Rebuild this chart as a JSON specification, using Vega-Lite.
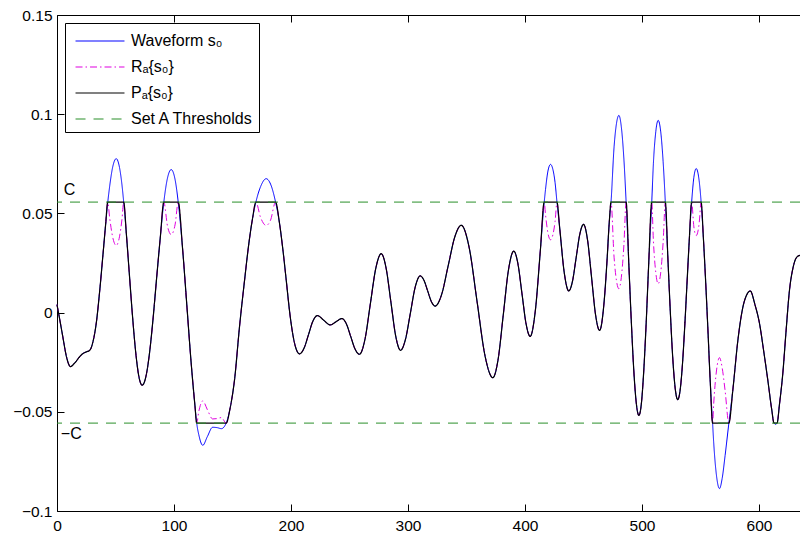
{
  "$schema": "https://vega.github.io/schema/vega-lite/v6.json",
  "width": 743,
  "height": 496,
  "autosize": "none",
  "padding": {"left": 57, "top": 15, "right": 0, "bottom": 24},
  "background": "white",
  "config": {
    "view": {"stroke": null},
    "font": "Liberation Sans",
    "axis": {
      "domainColor": "black", "domainWidth": 1, "tickColor": "black", "tickWidth": 1,
      "tickSize": -7, "labelColor": "black", "labelFont": "Liberation Sans", "labelFontSize": 15.5,
      "grid": false, "labelFlush": false, "labelOverlap": false
    },
    "legend": {
      "orient": "top-left", "offset": 8, "padding": 5, "strokeColor": "black", "fillColor": "white",
      "symbolType": "M-2.04,0H2.04", "symbolSize": 576, "symbolStrokeWidth": 1.2, "symbolOffset": 17,
      "labelFont": "Liberation Sans", "labelFontSize": 16, "labelColor": "black",
      "rowPadding": 5, "labelOffset": 18, "labelLimit": 400
    }
  },
  "resolve": {"axis": {"x": "independent"}},
  "datasets": {
    "w": [
      {"x":0,"s":0.004,"r":0.004,"p":0.004},
      {"x":2.5,"s":-0.004,"r":-0.004,"p":-0.004},
      {"x":5,"s":-0.0123,"r":-0.0123,"p":-0.0123},
      {"x":8,"s":-0.022,"r":-0.022,"p":-0.022},
      {"x":11.5,"s":-0.0272,"r":-0.0272,"p":-0.0272},
      {"x":15,"s":-0.0255,"r":-0.0255,"p":-0.0255},
      {"x":19,"s":-0.0225,"r":-0.0225,"p":-0.0225},
      {"x":22,"s":-0.0207,"r":-0.0207,"p":-0.0207},
      {"x":25,"s":-0.0198,"r":-0.0198,"p":-0.0198},
      {"x":28,"s":-0.019,"r":-0.019,"p":-0.019},
      {"x":31,"s":-0.014,"r":-0.014,"p":-0.014},
      {"x":33.65,"s":-0.0049,"r":-0.0049,"p":-0.0049},
      {"x":36.5,"s":0.011,"r":0.011,"p":0.011},
      {"x":39.3,"s":0.0293,"r":0.0293,"p":0.0293},
      {"x":41.5,"s":0.044,"r":0.044,"p":0.044},
      {"x":43.4,"s":0.0557,"r":0.0557,"p":0.0557},
      {"x":45,"s":0.0636,"r":0.0478,"p":0.0557},
      {"x":47.8,"s":0.0739,"r":0.0375,"p":0.0557},
      {"x":50.6,"s":0.0776,"r":0.0338,"p":0.0557},
      {"x":53.4,"s":0.0732,"r":0.0382,"p":0.0557},
      {"x":55.5,"s":0.0645,"r":0.0469,"p":0.0557},
      {"x":57,"s":0.0557,"r":0.0557,"p":0.0557},
      {"x":59.3,"s":0.0395,"r":0.0395,"p":0.0395},
      {"x":61.7,"s":0.0205,"r":0.0205,"p":0.0205},
      {"x":64.5,"s":-0.0015,"r":-0.0015,"p":-0.0015},
      {"x":67.25,"s":-0.0199,"r":-0.0199,"p":-0.0199},
      {"x":70,"s":-0.0323,"r":-0.0323,"p":-0.0323},
      {"x":72.8,"s":-0.0366,"r":-0.0366,"p":-0.0366},
      {"x":76,"s":-0.0322,"r":-0.0322,"p":-0.0322},
      {"x":79,"s":-0.0207,"r":-0.0207,"p":-0.0207},
      {"x":82,"s":-0.0037,"r":-0.0037,"p":-0.0037},
      {"x":85.2,"s":0.0178,"r":0.0178,"p":0.0178},
      {"x":88.3,"s":0.038,"r":0.038,"p":0.038},
      {"x":91.3,"s":0.0557,"r":0.0557,"p":0.0557},
      {"x":94.5,"s":0.068,"r":0.0434,"p":0.0557},
      {"x":97.6,"s":0.0721,"r":0.0393,"p":0.0557},
      {"x":101,"s":0.0668,"r":0.0446,"p":0.0557},
      {"x":103.6,"s":0.0557,"r":0.0557,"p":0.0557},
      {"x":107.3,"s":0.0324,"r":0.0324,"p":0.0324},
      {"x":111.1,"s":0.0026,"r":0.0026,"p":0.0026},
      {"x":114.5,"s":-0.0242,"r":-0.0242,"p":-0.0242},
      {"x":117.85,"s":-0.0466,"r":-0.0466,"p":-0.0466},
      {"x":119.4,"s":-0.0557,"r":-0.0557,"p":-0.0557},
      {"x":121.2,"s":-0.0616,"r":-0.0498,"p":-0.0557},
      {"x":124.6,"s":-0.0669,"r":-0.0445,"p":-0.0557},
      {"x":128.5,"s":-0.0625,"r":-0.0489,"p":-0.0557},
      {"x":133,"s":-0.0578,"r":-0.0536,"p":-0.0557},
      {"x":137,"s":-0.058,"r":-0.0534,"p":-0.0557},
      {"x":140.5,"s":-0.0585,"r":-0.0529,"p":-0.0557},
      {"x":144.6,"s":-0.0557,"r":-0.0557,"p":-0.0557},
      {"x":148,"s":-0.048,"r":-0.048,"p":-0.048},
      {"x":151.7,"s":-0.034,"r":-0.034,"p":-0.034},
      {"x":156,"s":-0.007,"r":-0.007,"p":-0.007},
      {"x":160.3,"s":0.0163,"r":0.0163,"p":0.0163},
      {"x":164,"s":0.035,"r":0.035,"p":0.035},
      {"x":167,"s":0.047,"r":0.047,"p":0.047},
      {"x":170,"s":0.0557,"r":0.0557,"p":0.0557},
      {"x":174,"s":0.0635,"r":0.0479,"p":0.0557},
      {"x":178.8,"s":0.0675,"r":0.0439,"p":0.0557},
      {"x":182.5,"s":0.0648,"r":0.0466,"p":0.0557},
      {"x":186.8,"s":0.0557,"r":0.0557,"p":0.0557},
      {"x":190,"s":0.0457,"r":0.0457,"p":0.0457},
      {"x":193,"s":0.032,"r":0.032,"p":0.032},
      {"x":195.9,"s":0.0164,"r":0.0164,"p":0.0164},
      {"x":199,"s":-0.0005,"r":-0.0005,"p":-0.0005},
      {"x":202,"s":-0.0125,"r":-0.0125,"p":-0.0125},
      {"x":204.5,"s":-0.0185,"r":-0.0185,"p":-0.0185},
      {"x":207.3,"s":-0.0208,"r":-0.0208,"p":-0.0208},
      {"x":211.1,"s":-0.018,"r":-0.018,"p":-0.018},
      {"x":214.9,"s":-0.0112,"r":-0.0112,"p":-0.0112},
      {"x":218.7,"s":-0.0043,"r":-0.0043,"p":-0.0043},
      {"x":222.5,"s":-0.0015,"r":-0.0015,"p":-0.0015},
      {"x":228,"s":-0.0039,"r":-0.0039,"p":-0.0039},
      {"x":233.5,"s":-0.0062,"r":-0.0062,"p":-0.0062},
      {"x":238.5,"s":-0.0046,"r":-0.0046,"p":-0.0046},
      {"x":243.5,"s":-0.003,"r":-0.003,"p":-0.003},
      {"x":247.25,"s":-0.0056,"r":-0.0056,"p":-0.0056},
      {"x":251,"s":-0.012,"r":-0.012,"p":-0.012},
      {"x":254.75,"s":-0.0184,"r":-0.0184,"p":-0.0184},
      {"x":258.5,"s":-0.021,"r":-0.021,"p":-0.021},
      {"x":263.15,"s":-0.0136,"r":-0.0136,"p":-0.0136},
      {"x":267.8,"s":0.0044,"r":0.0044,"p":0.0044},
      {"x":272.45,"s":0.0223,"r":0.0223,"p":0.0223},
      {"x":277.1,"s":0.0297,"r":0.0297,"p":0.0297},
      {"x":281.2,"s":0.0226,"r":0.0226,"p":0.0226},
      {"x":285.35,"s":0.0054,"r":0.0054,"p":0.0054},
      {"x":289.5,"s":-0.0119,"r":-0.0119,"p":-0.0119},
      {"x":293.6,"s":-0.019,"r":-0.019,"p":-0.019},
      {"x":297.8,"s":-0.0135,"r":-0.0135,"p":-0.0135},
      {"x":302,"s":-0.0003,"r":-0.0003,"p":-0.0003},
      {"x":306.2,"s":0.013,"r":0.013,"p":0.013},
      {"x":310.4,"s":0.0185,"r":0.0185,"p":0.0185},
      {"x":313.6,"s":0.0163,"r":0.0163,"p":0.0163},
      {"x":316.8,"s":0.0109,"r":0.0109,"p":0.0109},
      {"x":320,"s":0.0055,"r":0.0055,"p":0.0055},
      {"x":323.2,"s":0.0033,"r":0.0033,"p":0.0033},
      {"x":328.8,"s":0.0093,"r":0.0093,"p":0.0093},
      {"x":334.35,"s":0.0237,"r":0.0237,"p":0.0237},
      {"x":339.9,"s":0.038,"r":0.038,"p":0.038},
      {"x":345.5,"s":0.044,"r":0.044,"p":0.044},
      {"x":352.25,"s":0.0328,"r":0.0328,"p":0.0328},
      {"x":359,"s":0.0056,"r":0.0056,"p":0.0056},
      {"x":365.75,"s":-0.0216,"r":-0.0216,"p":-0.0216},
      {"x":372.5,"s":-0.0328,"r":-0.0328,"p":-0.0328},
      {"x":377,"s":-0.0235,"r":-0.0235,"p":-0.0235},
      {"x":381.45,"s":-0.0009,"r":-0.0009,"p":-0.0009},
      {"x":385.9,"s":0.0217,"r":0.0217,"p":0.0217},
      {"x":390.4,"s":0.031,"r":0.031,"p":0.031},
      {"x":393.9,"s":0.0247,"r":0.0247,"p":0.0247},
      {"x":397.4,"s":0.0095,"r":0.0095,"p":0.0095},
      {"x":400.9,"s":-0.0057,"r":-0.0057,"p":-0.0057},
      {"x":404.4,"s":-0.012,"r":-0.012,"p":-0.012},
      {"x":408.75,"s":0.0007,"r":0.0007,"p":0.0007},
      {"x":413.1,"s":0.0314,"r":0.0314,"p":0.0314},
      {"x":416.4,"s":0.0557,"r":0.0557,"p":0.0557},
      {"x":417.5,"s":0.062,"r":0.0494,"p":0.0557},
      {"x":419.6,"s":0.0714,"r":0.04,"p":0.0557},
      {"x":421.8,"s":0.0747,"r":0.0367,"p":0.0557},
      {"x":423.75,"s":0.0723,"r":0.0391,"p":0.0557},
      {"x":425.7,"s":0.0654,"r":0.046,"p":0.0557},
      {"x":427.3,"s":0.0557,"r":0.0557,"p":0.0557},
      {"x":429.6,"s":0.0428,"r":0.0428,"p":0.0428},
      {"x":433.5,"s":0.0202,"r":0.0202,"p":0.0202},
      {"x":437.4,"s":0.0109,"r":0.0109,"p":0.0109},
      {"x":440.55,"s":0.0158,"r":0.0158,"p":0.0158},
      {"x":443.7,"s":0.0277,"r":0.0277,"p":0.0277},
      {"x":446.85,"s":0.0396,"r":0.0396,"p":0.0396},
      {"x":450,"s":0.0445,"r":0.0445,"p":0.0445},
      {"x":453.4,"s":0.0367,"r":0.0367,"p":0.0367},
      {"x":456.85,"s":0.0178,"r":0.0178,"p":0.0178},
      {"x":460.3,"s":-0.0012,"r":-0.0012,"p":-0.0012},
      {"x":463.7,"s":-0.009,"r":-0.009,"p":-0.009},
      {"x":467.8,"s":0.0069,"r":0.0069,"p":0.0069},
      {"x":470,"s":0.0255,"r":0.0255,"p":0.0255},
      {"x":471.95,"s":0.0452,"r":0.0452,"p":0.0452},
      {"x":473.5,"s":0.0557,"r":0.0557,"p":0.0557},
      {"x":476.1,"s":0.0835,"r":0.0279,"p":0.0557},
      {"x":478.15,"s":0.0953,"r":0.0161,"p":0.0557},
      {"x":480.2,"s":0.0994,"r":0.012,"p":0.0557},
      {"x":482.3,"s":0.0936,"r":0.0178,"p":0.0557},
      {"x":484.5,"s":0.0773,"r":0.0341,"p":0.0557},
      {"x":486.4,"s":0.0557,"r":0.0557,"p":0.0557},
      {"x":488.75,"s":0.0238,"r":0.0238,"p":0.0238},
      {"x":491,"s":-0.0066,"r":-0.0066,"p":-0.0066},
      {"x":493,"s":-0.0296,"r":-0.0296,"p":-0.0296},
      {"x":495.2,"s":-0.0462,"r":-0.0462,"p":-0.0462},
      {"x":497.3,"s":-0.0518,"r":-0.0518,"p":-0.0518},
      {"x":499.4,"s":-0.046,"r":-0.046,"p":-0.046},
      {"x":501.4,"s":-0.03,"r":-0.03,"p":-0.03},
      {"x":503.5,"s":-0.0057,"r":-0.0057,"p":-0.0057},
      {"x":505.55,"s":0.0226,"r":0.0226,"p":0.0226},
      {"x":508.3,"s":0.0557,"r":0.0557,"p":0.0557},
      {"x":509.7,"s":0.0751,"r":0.0363,"p":0.0557},
      {"x":511.75,"s":0.0912,"r":0.0202,"p":0.0557},
      {"x":513.8,"s":0.0969,"r":0.0145,"p":0.0557},
      {"x":515.9,"s":0.0915,"r":0.0199,"p":0.0557},
      {"x":518,"s":0.0763,"r":0.0351,"p":0.0557},
      {"x":519.9,"s":0.0557,"r":0.0557,"p":0.0557},
      {"x":522.15,"s":0.0265,"r":0.0265,"p":0.0265},
      {"x":524.2,"s":0,"r":0,"p":0},
      {"x":526.3,"s":-0.0233,"r":-0.0233,"p":-0.0233},
      {"x":528.4,"s":-0.0385,"r":-0.0385,"p":-0.0385},
      {"x":530.5,"s":-0.0439,"r":-0.0439,"p":-0.0439},
      {"x":532.5,"s":-0.0393,"r":-0.0393,"p":-0.0393},
      {"x":534.45,"s":-0.0268,"r":-0.0268,"p":-0.0268},
      {"x":536.4,"s":-0.0079,"r":-0.0079,"p":-0.0079},
      {"x":538.4,"s":0.0144,"r":0.0144,"p":0.0144},
      {"x":540.4,"s":0.0369,"r":0.0369,"p":0.0369},
      {"x":542.4,"s":0.0557,"r":0.0557,"p":0.0557},
      {"x":544.3,"s":0.0682,"r":0.0432,"p":0.0557},
      {"x":546.3,"s":0.0726,"r":0.0388,"p":0.0557},
      {"x":548.8,"s":0.0665,"r":0.0449,"p":0.0557},
      {"x":550.5,"s":0.0557,"r":0.0557,"p":0.0557},
      {"x":552.4,"s":0.0379,"r":0.0379,"p":0.0379},
      {"x":554.2,"s":0.0176,"r":0.0176,"p":0.0176},
      {"x":556.25,"s":-0.008,"r":-0.008,"p":-0.008},
      {"x":558.3,"s":-0.0349,"r":-0.0349,"p":-0.0349},
      {"x":560.3,"s":-0.0557,"r":-0.0557,"p":-0.0557},
      {"x":561.2,"s":-0.0651,"r":-0.0463,"p":-0.0557},
      {"x":563.7,"s":-0.0825,"r":-0.0289,"p":-0.0557},
      {"x":566.2,"s":-0.0887,"r":-0.0227,"p":-0.0557},
      {"x":568.5,"s":-0.0835,"r":-0.0279,"p":-0.0557},
      {"x":571,"s":-0.072,"r":-0.0394,"p":-0.0557},
      {"x":574.2,"s":-0.0557,"r":-0.0557,"p":-0.0557},
      {"x":577.6,"s":-0.039,"r":-0.039,"p":-0.039},
      {"x":581.9,"s":-0.014,"r":-0.014,"p":-0.014},
      {"x":586.2,"s":0.0028,"r":0.0028,"p":0.0028},
      {"x":589.5,"s":0.009,"r":0.009,"p":0.009},
      {"x":592.5,"s":0.0109,"r":0.0109,"p":0.0109},
      {"x":596.5,"s":0.004,"r":0.004,"p":0.004},
      {"x":600.4,"s":-0.0055,"r":-0.0055,"p":-0.0055},
      {"x":604,"s":-0.0195,"r":-0.0195,"p":-0.0195},
      {"x":607.5,"s":-0.0341,"r":-0.0341,"p":-0.0341},
      {"x":610.8,"s":-0.0487,"r":-0.0487,"p":-0.0487},
      {"x":612.8,"s":-0.0557,"r":-0.0557,"p":-0.0557},
      {"x":614.1,"s":-0.0563,"r":-0.0551,"p":-0.0557},
      {"x":615.4,"s":-0.0557,"r":-0.0557,"p":-0.0557},
      {"x":617.5,"s":-0.046,"r":-0.046,"p":-0.046},
      {"x":620.3,"s":-0.0307,"r":-0.0307,"p":-0.0307},
      {"x":623,"s":-0.01,"r":-0.01,"p":-0.01},
      {"x":626,"s":0.0112,"r":0.0112,"p":0.0112},
      {"x":629,"s":0.0225,"r":0.0225,"p":0.0225},
      {"x":632.3,"s":0.028,"r":0.028,"p":0.028},
      {"x":635,"s":0.0289,"r":0.0289,"p":0.0289}
    ],
    "thr": [
      {"series": "t", "y": 0.0557},
      {"series": "t", "y": -0.0557}
    ]
  },
  "layer": [
    {
      "data": {"name": "w"},
      "transform": [{"fold": ["s"], "as": ["series", "v"]}],
      "mark": {"type": "line", "interpolate": "monotone", "strokeWidth": 1},
      "encoding": {
        "x": {"field": "x", "type": "quantitative", "scale": {"domain": [0, 635], "nice": false, "zero": false},
              "axis": {"orient": "bottom", "values": [0,100,200,300,400,500,600], "title": null, "labelPadding": 14}},
        "y": {"field": "v", "type": "quantitative", "scale": {"domain": [-0.1, 0.15], "nice": false, "zero": false},
              "axis": {"values": [-0.1,-0.05,0,0.05,0.1,0.15], "format": "~g", "title": null, "labelPadding": 12}},
        "color": {"field": "series", "type": "nominal",
                  "scale": {"domain": ["s","r","p","t"], "range": ["#0000ff","#e000e0","#000000","#2a8f2a"]},
                  "legend": {"title": null, "labelExpr": "{'s':'\u00a0Waveform s₀','r':'Rₐ{s₀}','p':'Pₐ{s₀}','t':'Set A Thresholds'}[datum.label]",
                             "encode": {"symbols": {"update": {"stroke": {"scale": "color", "field": "value"}}}}}},
        "strokeDash": {"field": "series", "type": "nominal",
                  "scale": {"domain": ["s","r","p","t"], "range": [[1,0],[7,3,1.5,3],[1,0],[10,8]]},
                  "legend": {"title": null, "labelExpr": "{'s':'\u00a0Waveform s₀','r':'Rₐ{s₀}','p':'Pₐ{s₀}','t':'Set A Thresholds'}[datum.label]",
                             "encode": {"symbols": {"update": {"stroke": {"scale": "color", "field": "value"}}}}}}
      }
    },
    {
      "data": {"name": "w"},
      "transform": [{"fold": ["r"], "as": ["series", "v"]}],
      "mark": {"type": "line", "interpolate": "monotone", "strokeWidth": 1},
      "encoding": {
        "x": {"field": "x", "type": "quantitative", "axis": {"orient": "top", "values": [0,100,200,300,400,500,600], "labels": false, "title": null}},
        "y": {"field": "v", "type": "quantitative", "title": null},
        "color": {"field": "series", "type": "nominal"},
        "strokeDash": {"field": "series", "type": "nominal"}
      }
    },
    {
      "data": {"name": "w"},
      "transform": [{"fold": ["p"], "as": ["series", "v"]}],
      "mark": {"type": "line", "interpolate": "monotone", "strokeWidth": 1.2},
      "encoding": {
        "x": {"field": "x", "type": "quantitative", "axis": null},
        "y": {"field": "v", "type": "quantitative", "title": null},
        "color": {"field": "series", "type": "nominal"},
        "strokeDash": {"field": "series", "type": "nominal"}
      }
    },
    {
      "data": {"name": "thr"},
      "mark": {"type": "rule", "strokeWidth": 1},
      "encoding": {
        "y": {"field": "y", "type": "quantitative", "title": null},
        "color": {"field": "series", "type": "nominal"},
        "strokeDash": {"field": "series", "type": "nominal"}
      }
    },
    {
      "data": {"values": [{"label": "C", "y": 0.0557}]},
      "mark": {"type": "text", "fontSize": 16, "font": "Liberation Sans", "color": "black", "align": "center", "dy": -12},
      "encoding": {
        "x": {"datum": 10.7, "type": "quantitative", "axis": null},
        "y": {"field": "y", "type": "quantitative", "title": null},
        "text": {"field": "label"}
      }
    },
    {
      "data": {"values": [{"label": "−C", "y": -0.0557}]},
      "mark": {"type": "text", "fontSize": 16, "font": "Liberation Sans", "color": "black", "align": "center", "dy": 11},
      "encoding": {
        "x": {"datum": 12.2, "type": "quantitative", "axis": null},
        "y": {"field": "y", "type": "quantitative", "title": null},
        "text": {"field": "label"}
      }
    }
  ]
}
